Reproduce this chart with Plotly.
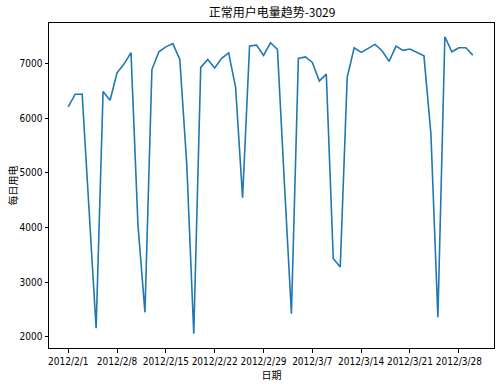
import plotly.graph_objects as go
import pandas as pd

dates = pd.date_range("2012-02-01", "2012-03-30", freq="D")
values = [
    6210, 6440, 6440, 4250, 2160, 6490, 6330, 6830, 6990, 7200,
    4050, 2450, 6890, 7215, 7305, 7365, 7075, 5150, 2060, 6930,
    7075, 6920, 7095, 7195, 6565, 4545, 7320, 7338, 7150, 7380,
    7258, 4800, 2425, 7095, 7122, 7021, 6680, 6808, 3435, 3280,
    6750, 7288, 7204, 7277, 7350, 7234, 7040, 7320, 7241, 7265,
    7204, 7142, 5720, 2360, 7490, 7215, 7288, 7288, 7155,
]
tick_dates = pd.date_range("2012-02-01", "2012-03-28", freq="7D")
tick_labels = [f"{d.year}/{d.month}/{d.day}" for d in tick_dates]
y_ticks = [2000, 3000, 4000, 5000, 6000, 7000]

font = "Noto Sans CJK SC"
tfont = "Liberation Sans Narrow, DejaVu Sans Condensed, Noto Sans CJK SC"
fig = go.Figure(go.Scatter(
    x=dates, y=values, mode="lines",
    line=dict(color="#1f77b4", width=1.6),
))
span = dates[-1] - dates[0]
fig.update_layout(
    width=501, height=384,
    margin=dict(l=49, r=7, t=23, b=36),
    paper_bgcolor="white", plot_bgcolor="white",
    showlegend=False,
    font=dict(family=font, size=10, color="black"),
    title=dict(text="正常用户电量趋势-3029", x=0.543, xanchor="center",
               y=1 - 13 / 384, yanchor="middle",
               font=dict(family=font, size=12, color="black")),
)
fig.update_xaxes(
    range=[dates[0] - span * 0.05 * 0.95, dates[-1] + span * 0.05 * 1.05],
    tickvals=tick_dates, ticktext=tick_labels, tickangle=0,
    automargin=False,
    showgrid=False, zeroline=False,
    showline=True, linecolor="black", linewidth=1, mirror=True,
    ticks="outside", ticklen=3.5, tickcolor="black", tickwidth=0.8,
    title=dict(text="日期", standoff=0, font=dict(family=font, size=10)),
    tickfont=dict(family=tfont, size=10),
)
fig.update_yaxes(
    range=[1798, 7742],
    tickvals=y_ticks, automargin=False,
    showgrid=False, zeroline=False,
    showline=True, linecolor="black", linewidth=1, mirror=True,
    ticks="outside", ticklen=3.5, tickcolor="black", tickwidth=0.8,
    title=dict(text="每日用电", standoff=0, font=dict(family=font, size=10)),
    tickfont=dict(family=tfont, size=10),
)
fig.write_html("out.html")
